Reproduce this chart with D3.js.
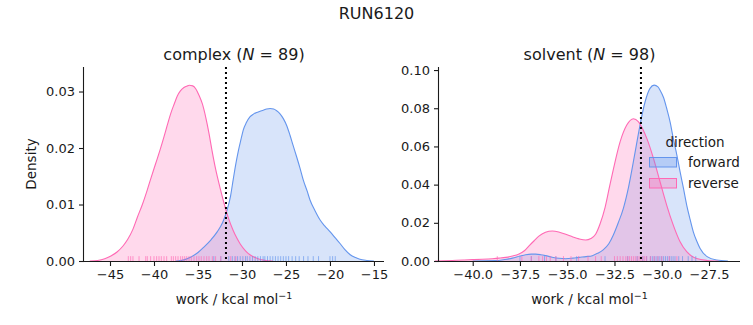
<!DOCTYPE html>
<html><head><meta charset="utf-8">
<script src="https://cdn.jsdelivr.net/npm/d3@7"></script>
<style>body{margin:0;background:#fff}svg{display:block}text{font-family:"DejaVu Sans",sans-serif;fill:#1a1a1a}</style>
</head><body>
<script>
// ---- data ----
const suptitle = "RUN6120";
const directions = ["forward", "reverse"];
const colors = {forward: "#6495ED", reverse: "#FF69B4"};

// KDE curves: [work, density]
const complexForward = [[-37.5,0],[-36.6,0.0002],[-35.8,0.0007],[-35.0,0.0015],[-34.3,0.0025],[-33.5,0.0038],[-32.8,0.0052],[-32.2,0.0068],[-31.74,0.0088],[-31.3,0.0115],[-30.99,0.0145],[-30.7,0.0172],[-30.4,0.0196],[-30.1,0.0216],[-29.85,0.0232],[-29.5,0.0245],[-29.1,0.0255],[-28.7,0.0260],[-28.33,0.0263],[-27.95,0.0265],[-27.58,0.0267],[-27.2,0.0269],[-26.8,0.0270],[-26.4,0.0269],[-26.06,0.0266],[-25.7,0.0261],[-25.3,0.0252],[-24.9,0.0239],[-24.55,0.0223],[-24.2,0.0205],[-23.8,0.0185],[-23.4,0.0164],[-23.03,0.0143],[-22.6,0.0124],[-22.27,0.0108],[-21.7,0.0089],[-21.14,0.0073],[-20.6,0.0062],[-20.0,0.0052],[-19.4,0.0041],[-18.86,0.0031],[-18.3,0.0020],[-17.7,0.0011],[-17.1,0.0006],[-16.6,0.0003],[-15.8,0.0001],[-15.0,0]];
const complexReverse = [[-47.3,0],[-46.4,0.0001],[-45.6,0.0004],[-44.9,0.0009],[-44.2,0.0016],[-43.5,0.0027],[-43.0,0.0038],[-42.4,0.0056],[-41.9,0.0077],[-41.3,0.0101],[-40.76,0.0126],[-40.3,0.0149],[-39.8,0.0173],[-39.3,0.0197],[-38.86,0.0220],[-38.5,0.0240],[-38.1,0.0261],[-37.7,0.0278],[-37.35,0.0292],[-37.0,0.0301],[-36.6,0.0307],[-36.2,0.0310],[-36.0,0.0311],[-35.6,0.0310],[-35.26,0.0305],[-34.9,0.0294],[-34.5,0.0278],[-34.1,0.0253],[-33.75,0.0226],[-33.4,0.0195],[-33.0,0.0163],[-32.5,0.0130],[-32.0,0.0100],[-31.5,0.0074],[-31.0,0.0054],[-30.6,0.0041],[-30.2,0.0030],[-29.6,0.0018],[-29.1,0.0011],[-28.5,0.0006],[-28.0,0.0003],[-27.3,0.0001],[-26.5,0]];
const solventForward = [[-40.0,0],[-38.8,0.0002],[-38.3,0.0008],[-37.9,0.0015],[-37.5,0.0026],[-37.2,0.0033],[-36.9,0.0036],[-36.67,0.0036],[-36.4,0.0033],[-36.14,0.0028],[-35.8,0.0020],[-35.43,0.0014],[-35.08,0.0012],[-34.7,0.0015],[-34.38,0.0019],[-34.0,0.0023],[-33.67,0.0028],[-33.4,0.0040],[-33.1,0.0058],[-32.8,0.0090],[-32.56,0.0136],[-32.3,0.0200],[-32.03,0.0276],[-31.75,0.0390],[-31.5,0.0520],[-31.3,0.0630],[-31.15,0.0712],[-30.88,0.0834],[-30.62,0.0904],[-30.4,0.0921],[-30.2,0.0912],[-30.09,0.0895],[-29.9,0.0855],[-29.74,0.0800],[-29.55,0.0725],[-29.39,0.0642],[-29.2,0.0555],[-29.03,0.0468],[-28.85,0.0380],[-28.68,0.0293],[-28.5,0.0218],[-28.33,0.0153],[-28.15,0.0105],[-27.97,0.0066],[-27.6,0.0023],[-27.1,0.0005],[-26.5,0]];
const solventReverse = [[-42.0,0],[-41.08,0.0003],[-40.5,0.0005],[-40.02,0.0007],[-39.5,0.0009],[-38.96,0.0012],[-38.6,0.0015],[-38.25,0.0019],[-37.9,0.0026],[-37.55,0.0037],[-37.25,0.0055],[-37.02,0.0079],[-36.75,0.0106],[-36.5,0.0130],[-36.15,0.0150],[-35.79,0.0157],[-35.45,0.0152],[-35.08,0.0140],[-34.7,0.0126],[-34.38,0.0116],[-34.02,0.0110],[-33.75,0.0118],[-33.5,0.0140],[-33.26,0.0195],[-33.0,0.0280],[-32.75,0.0395],[-32.56,0.0480],[-32.2,0.0625],[-31.85,0.0712],[-31.5,0.0745],[-31.24,0.0730],[-31.0,0.0690],[-30.79,0.0642],[-30.44,0.0538],[-30.09,0.0415],[-29.74,0.0293],[-29.39,0.0188],[-29.03,0.0101],[-28.68,0.0049],[-28.4,0.0025],[-28.15,0.0013],[-27.6,0.0003],[-27.0,0]];

// rug (individual work values)
const complexForwardRug = [-33.2,-32.4,-31.5,-31.1,-30.8,-30.5,-30.2,-29.9,-29.6,-29.4,-29.1,-28.8,-28.5,-28.2,-27.9,-27.6,-27.4,-27.1,-26.8,-26.5,-26.2,-25.9,-25.6,-25.3,-25.0,-24.7,-24.3,-23.9,-23.5,-23.0,-22.5,-21.9,-21.3,-20.0,-19.7,-19.4];
const complexReverseRug = [-42.92,-42.65,-42.39,-41.7,-40.94,-40.76,-40.38,-40.0,-39.7,-39.43,-39.17,-38.86,-38.56,-38.03,-37.8,-37.54,-37.27,-36.97,-36.74,-36.51,-36.28,-36.02,-35.76,-35.45,-35.15,-34.89,-34.63,-34.32,-34.01,-33.75,-33.37,-33.0,-32.42,-31.28,-30.7];
const solventForwardRug = [-37.5,-36.9,-36.2,-35.6,-34.5,-33.0,-31.8,-31.3,-31.0,-30.8,-30.6,-30.5,-30.4,-30.3,-30.2,-30.1,-30.0,-29.9,-29.8,-29.7,-29.6,-29.5,-29.4,-29.3,-29.1,-28.9,-28.6,-28.4,-28.2];
const solventReverseRug = [-38.7,-37.4,-36.9,-36.5,-36.3,-36.1,-35.9,-35.6,-35.2,-34.8,-34.4,-33.9,-33.5,-33.2,-32.5,-32.35,-32.2,-32.05,-31.9,-31.8,-31.7,-31.6,-31.5,-31.4,-31.3,-31.2,-31.1,-31.0,-30.9,-30.8,-30.6,-30.4,-30.2,-30.0,-29.6,-29.2];

// panel meta
const panelNames = ["complex", "solvent"];
const panelN = [89, 98];
const freeEnergy = [-31.82, -31.1];
const xTicksComplex = [-45,-40,-35,-30,-25,-20,-15];
const xTicksSolvent = [-40,-37.5,-35,-32.5,-30,-27.5];
const yTicksComplex = [0,0.01,0.02,0.03];
const yTicksSolvent = [0,0.02,0.04,0.06,0.08,0.10];

// ---- layout ----
const W = 753, H = 325;
const svg = d3.select("body").append("svg").attr("width", W).attr("height", H);
const ink = "#1a1a1a";

svg.append("text").attr("x", 376.5).attr("y", 19).attr("text-anchor","middle")
  .style("font-size","16px").text(suptitle);

const panels = [
  {name: panelNames[0], N: panelN[0], fe: freeEnergy[0], left: 84, right: 384,
   xdom: [-47.955, -13.86], ydom: [0, 0.03434], xt: xTicksComplex, yt: yTicksComplex, xfmt: d3.format(".0f"),
   curves: {forward: complexForward, reverse: complexReverse},
   rugs: {forward: complexForwardRug, reverse: complexReverseRug}, ylabel: true},
  {name: panelNames[1], N: panelN[1], fe: freeEnergy[1], left: 439, right: 740,
   xdom: [-41.783, -25.86], ydom: [0, 0.1016], xt: xTicksSolvent, yt: yTicksSolvent, xfmt: d3.format(".1f"),
   curves: {forward: solventForward, reverse: solventReverse},
   rugs: {forward: solventForwardRug, reverse: solventReverseRug}, legend: true}
];
const yTop = 67, yBot = 261;
const minus = s => s.replace("-", "\u2212");

panels.forEach(p => {
  const x = d3.scaleLinear().domain(p.xdom).range([p.left, p.right]);
  const y = d3.scaleLinear().domain(p.ydom).range([yBot, yTop]);
  const g = svg.append("g");

  const area = d3.area().x(d => x(d[0])).y0(y(0)).y1(d => y(d[1])).curve(d3.curveMonotoneX);
  const line = d3.line().x(d => x(d[0])).y(d => y(d[1])).curve(d3.curveMonotoneX);

  directions.forEach(dir => {
    g.append("path").attr("d", area(p.curves[dir])).attr("fill", colors[dir]).attr("fill-opacity", 0.25);
  });
  directions.forEach(dir => {
    g.append("path").attr("d", line(p.curves[dir])).attr("fill","none").attr("stroke", colors[dir]).attr("stroke-width", 1.1);
  });
  const rugH = (yBot - yTop) * 0.025;
  directions.forEach(dir => {
    g.selectAll(null).data(p.rugs[dir]).enter().append("line")
      .attr("x1", d => x(d)).attr("x2", d => x(d))
      .attr("y1", yBot).attr("y2", yBot - rugH)
      .attr("stroke", colors[dir]).attr("stroke-opacity", 0.65).attr("stroke-width", 1);
  });
  g.append("line").attr("x1", x(p.fe)).attr("x2", x(p.fe)).attr("y1", yTop).attr("y2", yBot)
    .attr("stroke", "#000").attr("stroke-width", 2).attr("stroke-dasharray", "2,3");

  const xa = g.append("g").attr("transform", `translate(0,${yBot})`)
    .call(d3.axisBottom(x).tickValues(p.xt).tickFormat(d => minus(p.xfmt(d))).tickSize(5).tickPadding(4));
  const ya = g.append("g").attr("transform", `translate(${p.left},0)`)
    .call(d3.axisLeft(y).tickValues(p.yt).tickFormat(d3.format(".2f")).tickSize(5).tickPadding(4));
  [xa, ya].forEach(a => {
    a.select(".domain").attr("stroke", ink).attr("stroke-width", 1.1);
    a.selectAll(".tick line").attr("stroke", ink).attr("stroke-width", 1.1);
    a.selectAll(".tick text").style("font-size", "13px").style("font-family", "DejaVu Sans").attr("fill", ink);
  });
  xa.select(".domain").attr("d", `M${p.left},0.5H${p.right}`);
  ya.select(".domain").attr("d", `M-0.5,${yBot}V${yTop}`);

  const cx = (p.left + p.right) / 2;
  const t = g.append("text").attr("x", cx).attr("y", 60).attr("text-anchor","middle").style("font-size","16px");
  t.append("tspan").text(p.name + " (");
  t.append("tspan").style("font-style","italic").text("N");
  t.append("tspan").text(" = " + p.N + ")");

  const xl = g.append("text").attr("x", cx).attr("y", 304).attr("text-anchor","middle").style("font-size","13.5px");
  xl.append("tspan").text("work / kcal mol");
  xl.append("tspan").attr("dy", -5).style("font-size","9.5px").text("\u22121");

  if (p.ylabel) {
    g.append("text").attr("transform", `translate(36,${(yTop+yBot)/2}) rotate(-90)`)
      .attr("text-anchor","middle").style("font-size","13.5px").text("Density");
  }

  if (p.legend) {
    const lg = g.append("g");
    lg.append("text").attr("x", 695).attr("y", 147).attr("text-anchor","middle").style("font-size","13.5px").text("direction");
    directions.forEach((dir, i) => {
      const yy = 157.5 + i * 21;
      lg.append("rect").attr("x", 649.5).attr("y", yy).attr("width", 27).attr("height", 9.5)
        .attr("fill", colors[dir]).attr("fill-opacity", 0.3).attr("stroke", colors[dir]).attr("stroke-width", 1);
      lg.append("text").attr("x", 688).attr("y", yy + 9.5).style("font-size","13.5px").text(dir);
    });
  }
});
</script>
</body></html>
